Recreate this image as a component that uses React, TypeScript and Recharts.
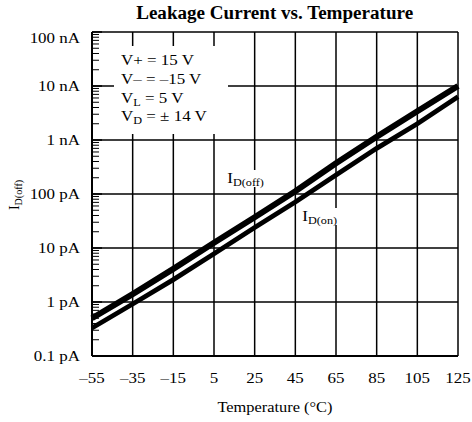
import React from "react";
import { LineChart, Line, XAxis, YAxis, ReferenceLine } from "recharts";

// temperature (°C)
const temps = [-55, -35, -15, 5, 25, 45, 65, 85, 105, 125];
// leakage current in pA
const idOff = [0.5, 1.4, 4.1, 12.5, 37, 112, 370, 1150, 3400, 10000];
const idOn = [0.33, 0.92, 2.6, 7.8, 24, 71, 225, 700, 2000, 6300];

const xTicks = [-55, -35, -15, 5, 25, 45, 65, 85, 105, 125];
const xTickLabels = ["–55", "–35", "–15", "5", "25", "45", "65", "85", "105", "125"];
const yDecades = [0.1, 1, 10, 100, 1000, 10000, 100000];
const yTickLabels = ["0.1 pA", "1 pA", "10 pA", "100 pA", "1 nA", "10 nA", "100 nA"];

const conditions = ["V+ = 15 V", "V– = –15 V", "VL = 5 V", "VD = ± 14 V"];

const data = temps.map((t, i) => ({ t, off: idOff[i], on: idOn[i] }));

const minorTicks: number[] = [];
yDecades.slice(0, -1).forEach(d => {
  for (let m = 2; m <= 9; m++) minorTicks.push(+(d * m).toPrecision(3));
});
const yTicks = [...yDecades, ...minorTicks];

const font = '"Liberation Serif", "Times New Roman", serif';
const stretch = 1.13; // the scanned original is a bit wide

function YTick(props: any) {
  const { x, y, payload } = props;
  const i = yDecades.indexOf(payload.value);
  if (i < 0) {
    return <line x1={x} x2={x + 7} y1={y} y2={y} stroke="#000" strokeWidth={1} />;
  }
  const shift = i === yDecades.length - 1 ? 6 : 0;
  return (
    <g>
      <line x1={x} x2={x + 10} y1={y} y2={y} stroke="#000" strokeWidth={1.5} />
      <text
        transform={`translate(${x - 12},${y + 5 + shift}) scale(${stretch},1)`}
        textAnchor="end"
        fontSize={15}
        fontFamily={font}
        fill="#000"
      >
        {yTickLabels[i]}
      </text>
    </g>
  );
}

function XTick(props: any) {
  const { x, y, payload } = props;
  const i = xTicks.indexOf(payload.value);
  return (
    <text
      transform={`translate(${x},${y + 19}) scale(${stretch},1)`}
      textAnchor="middle"
      fontSize={15}
      fontFamily={font}
      fill="#000"
    >
      {xTickLabels[i]}
    </text>
  );
}

const sub = (main: string, s: string) => (
  <span>
    {main}
    <sub style={{ fontSize: "0.72em", verticalAlign: "-0.3em", lineHeight: 0 }}>{s}</sub>
  </span>
);

const wide = (extra: any = {}) => ({
  position: "absolute" as const,
  whiteSpace: "nowrap" as const,
  transform: `scaleX(${stretch})`,
  transformOrigin: "left center",
  ...extra,
});

export default function App() {
  return (
    <div style={{ position: "absolute", left: 0, top: 0, width: 472, height: 422, background: "#fff", fontFamily: font, color: "#000" }}>
      <LineChart width={472} height={422} data={data} margin={{ top: 32, right: 14, bottom: 0, left: 0 }}>
        <XAxis
          dataKey="t"
          type="number"
          domain={[-55, 125]}
          ticks={xTicks}
          interval={0}
          height={66}
          tick={<XTick />}
          tickLine={false}
          axisLine={{ stroke: "#000", strokeWidth: 2 }}
        />
        <YAxis
          type="number"
          scale="log"
          domain={[0.1, 100000]}
          allowDataOverflow
          ticks={yTicks}
          interval={0}
          width={92}
          tickSize={0}
          tickMargin={0}
          tick={<YTick />}
          tickLine={false}
          axisLine={{ stroke: "#000", strokeWidth: 2 }}
        />
        {yDecades.slice(1).map(v => (
          <ReferenceLine key={"h" + v} y={v} stroke="#000" strokeWidth={1.5} />
        ))}
        {xTicks.slice(1).map(v => (
          <ReferenceLine key={"v" + v} x={v} stroke="#000" strokeWidth={1.5} />
        ))}
        <Line dataKey="off" type="linear" stroke="#000" strokeWidth={6} dot={false} isAnimationActive={false} />
        <Line dataKey="on" type="linear" stroke="#000" strokeWidth={4.8} dot={false} isAnimationActive={false} />
      </LineChart>

      <div style={{ position: "absolute", left: 92, width: 366, top: 3, textAlign: "center" }}>
        <span style={{ display: "inline-block", fontWeight: "bold", fontSize: 18, transform: "scaleX(1.06)" }}>
          Leakage Current vs. Temperature
        </span>
      </div>
      <div style={{ position: "absolute", left: 92, width: 366, top: 398, textAlign: "center" }}>
        <span style={{ display: "inline-block", fontSize: 14.5, transform: `scaleX(${stretch})` }}>Temperature (°C)</span>
      </div>
      <div style={{ position: "absolute", left: 15, top: 195, transform: "translate(-50%, -50%) rotate(-90deg)", fontSize: 14, whiteSpace: "nowrap" }}>
        {sub("I", "D(off)")}
      </div>
      <div style={{ position: "absolute", left: 114, top: 46, width: 114, height: 88, background: "#fff" }} />
      <div style={wide({ left: 121, top: 51, fontSize: 15, lineHeight: "18.8px" })}>
        <div>{conditions[0]}</div>
        <div>{conditions[1]}</div>
        <div>{sub("V", "L")}{conditions[2].slice(2)}</div>
        <div>{sub("V", "D")}{conditions[3].slice(2)}</div>
      </div>
      <div style={wide({ left: 225, top: 170, fontSize: 15, background: "#fff", padding: "0 2px" })}>
        {sub("I", "D(off)")}
      </div>
      <div style={wide({ left: 300, top: 208, fontSize: 15, background: "#fff", padding: "0 2px" })}>
        {sub("I", "D(on)")}
      </div>
    </div>
  );
}
